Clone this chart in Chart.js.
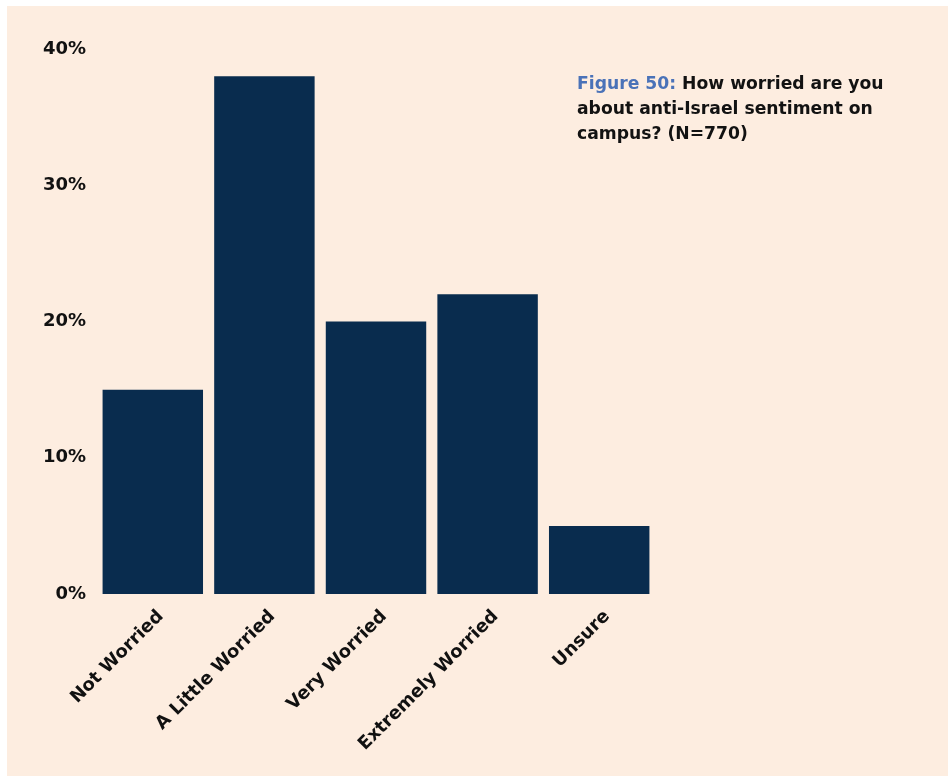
<!DOCTYPE html>
<html>
<head>
<meta charset="utf-8">
<script src="https://cdn.jsdelivr.net/npm/chart.js@4.4.1/dist/chart.umd.min.js"></script>
<style>
  html, body { margin: 0; padding: 0; background: #ffffff; }
  #page { position: relative; width: 948px; height: 777px; overflow: hidden; }
  #panel { position: absolute; left: 7px; top: 6px; right: 0; bottom: 1px; background: #fdede0; }
  #wrap { position: absolute; left: 0; top: 0; width: 948px; height: 777px; }
  #title {
    position: absolute; left: 577px; top: 71px; width: 340px;
    font-family: "DejaVu Sans", sans-serif; font-weight: bold; font-size: 17.2px;
    line-height: 25px; color: #121212;
  }
  #title .fig { color: #4a72b8; }
</style>
</head>
<body>
<div id="page">
  <div id="panel"></div>
  <div id="wrap"><canvas id="chart"></canvas></div>
  <div id="title"><span class="fig">Figure 50:</span> How worried are you about anti-Israel sentiment on campus? (N=770)</div>
</div>
<script>
// Survey responses, share of respondents (%)
const categories = ["Not Worried", "A Little Worried", "Very Worried", "Extremely Worried", "Unsure"];
const shares = [15, 38, 20, 22, 5];
const yTicks = [0, 10, 20, 30, 40];

const tickFont = { family: "'DejaVu Sans', sans-serif", weight: 'bold', size: 18 };

new Chart(document.getElementById('chart'), {
  type: 'bar',
  data: {
    labels: categories,
    datasets: [{
      data: shares,
      backgroundColor: '#092c4e',
      borderWidth: 0,
      categoryPercentage: 0.9,
      barPercentage: 1.0
    }]
  },
  options: {
    responsive: true,
    maintainAspectRatio: false,
    animation: false,
    events: [],
    layout: { padding: { top: 49, right: 293, bottom: 0, left: 0 } },
    plugins: { legend: { display: false }, tooltip: { enabled: false } },
    scales: {
      x: {
        grid: { display: false },
        border: { display: false },
        ticks: {
          color: '#111111',
          font: tickFont,
          minRotation: 45,
          maxRotation: 45,
          padding: 4,
          labelOffset: 8
        },
        afterFit: (scale) => { scale.height = 183; }
      },
      y: {
        min: 0,
        max: 40,
        grid: { display: false },
        border: { display: false },
        afterBuildTicks: (scale) => { scale.ticks = yTicks.map(v => ({ value: v })); },
        ticks: {
          color: '#111111',
          font: tickFont,
          padding: 3,
          callback: (v) => v + '%'
        },
        afterFit: (scale) => { scale.width = 97; }
      }
    }
  }
});
</script>
</body>
</html>
